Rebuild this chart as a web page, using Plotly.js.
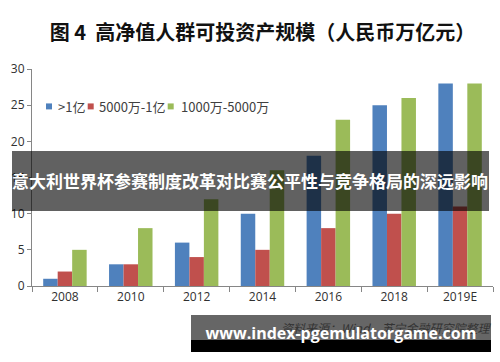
<!DOCTYPE html>
<html>
<head>
<meta charset="utf-8">
<script src="https://cdn.plot.ly/plotly-3.0.1.min.js"></script>
<style>
  html, body { margin:0; padding:0; background:#fff; }
  #wrap { position:relative; width:500px; height:362px; overflow:hidden; }
  #chart { position:absolute; left:0; top:0; width:500px; height:362px; }
  #banner { position:absolute; left:12px; top:151px; width:477px; height:60px; background:rgba(0,0,0,0.62);
    color:#fff; font-family:"Noto Sans CJK SC", sans-serif; font-weight:bold; font-size:17px; line-height:60px;
    white-space:nowrap; overflow:hidden; text-align:left; }
  #src { position:absolute; left:191px; top:315px; width:300px; height:25px; background:#666; }
  #srctext { position:absolute; left:281px; top:320px; color:#333; font-style:italic;
    font-family:"Noto Sans CJK SC", sans-serif; font-size:12px; line-height:16px; white-space:nowrap; }
  #wmbar { position:absolute; left:191px; top:340px; width:300px; height:12px; background:#000; }
  #wm { position:absolute; left:191px; top:322px; width:300px; text-align:center; color:#fff;
    font-family:"Open Sans", "DejaVu Sans", sans-serif; font-weight:bold; font-size:16px; line-height:22px; white-space:nowrap; }
</style>
</head>
<body>
<div id="wrap">
  <div id="chart"></div>
  <div id="banner">意大利世界杯参赛制度改革对比赛公平性与竞争格局的深远影响</div>
  <div id="src"></div>
  <div id="srctext">资料来源：Wind，苏宁金融研究院整理</div>
  <div id="wmbar"></div>
  <div id="wm">www.index-pgemulatorgame.com</div>
</div>
<script>
const categories = ["2008", "2010", "2012", "2014", "2016", "2018", "2019E"];
const seriesNames = [">1亿", "5000万-1亿", "1000万-5000万"];
const over1yi = [1, 3, 6, 10, 18, 25, 28];
const from5000wTo1yi = [2, 3, 4, 5, 8, 10, 11];
const from1000wTo5000w = [5, 8, 12, 16, 23, 26, 28];
const colors = ["#4F81BD", "#C0504D", "#9BBB59"];
const titleText = "图 4  高净值人群可投资产规模（人民币万亿元）";

const values = [over1yi, from5000wTo1yi, from1000wTo5000w];
const traces = values.map((v, i) => ({
  type: "bar",
  name: seriesNames[i],
  x: categories,
  y: v,
  marker: { color: colors[i], line: { width: 0 } },
  hoverinfo: "x+y+name"
}));

// plot area in pixels
const L = 32, R = 493, T = 68.5, B = 286;
const px = p => (p - L) / (R - L);
const py = p => (B - p) / (B - T);

// custom compact legend (Excel style: small square + text)
const legendSquareX = [46, 87.7, 167.7];
const legendTextX = [56, 97, 179];
const legendY = 106;
const shapes = [];
const annotations = [];
seriesNames.forEach((n, i) => {
  shapes.push({
    type: "rect", xref: "paper", yref: "paper",
    x0: px(legendSquareX[i]), x1: px(legendSquareX[i] + 6),
    y0: py(legendY + 3), y1: py(legendY - 3),
    fillcolor: colors[i], line: { width: 0 }
  });
  annotations.push({
    xref: "paper", yref: "paper",
    x: px(legendTextX[i]), y: py(legendY),
    xanchor: "left", yanchor: "middle",
    text: n, showarrow: false,
    font: { family: "Noto Sans CJK SC, sans-serif", size: 13, color: "#404040" }
  });
});

const layout = {
  width: 500, height: 362,
  margin: { l: L, r: 500 - R, t: T, b: 362 - B },
  paper_bgcolor: "#fff", plot_bgcolor: "#fff",
  barmode: "group",
  bargap: 0.34,
  bargroupgap: 0,
  title: {
    text: titleText,
    x: 0.5, xref: "paper", xanchor: "center",
    y: 1 - 33 / 362, yref: "container", yanchor: "middle",
    font: { family: "Noto Sans CJK SC, sans-serif", size: 20, color: "#111", weight: "bold" }
  },
  font: { family: "Open Sans, Liberation Sans, sans-serif", size: 12, color: "#404040" },
  showlegend: false,
  shapes: shapes,
  annotations: annotations,
  xaxis: {
    type: "category",
    showgrid: false,
    showline: true, linecolor: "#868686", linewidth: 1,
    ticks: "outside", tickson: "boundaries", ticklen: 5, tickcolor: "#868686",
    tickfont: { size: 12, color: "#303030" },
    fixedrange: true
  },
  yaxis: {
    range: [0, 30],
    dtick: 5,
    showgrid: false,
    zeroline: false,
    showline: true, linecolor: "#868686", linewidth: 1,
    ticks: "outside", ticklen: 4, tickcolor: "#868686",
    tickfont: { size: 12, color: "#303030" },
    fixedrange: true
  }
};

Plotly.newPlot("chart", traces, layout, { displayModeBar: false, staticPlot: true });
</script>
</body>
</html>
